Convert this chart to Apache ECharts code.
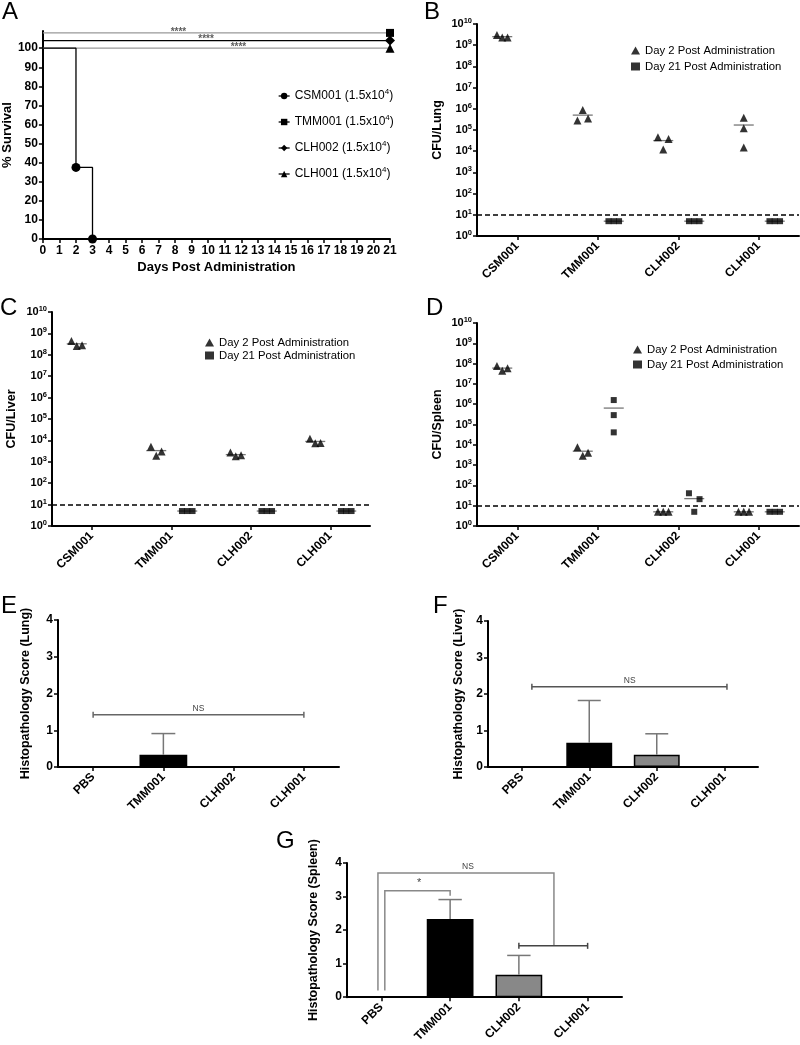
<!DOCTYPE html>
<html><head><meta charset="utf-8">
<script src="https://cdn.jsdelivr.net/npm/echarts@6/dist/echarts.min.js"></script>
<style>html,body{margin:0;padding:0;background:#fff}#c{width:800px;height:1045px}</style>
</head><body><div id="c"></div>
<script>
// ---------------- DATA ----------------
// Panel A: survival (day, % survival, marker shown)
const survNames = ['CSM001', 'TMM001', 'CLH002', 'CLH001'];
const survCSM001 = [[0, 100, 0], [2, 37.5, 1], [3, 0, 1], [21, 0, 0]];
const survTMM001 = [[0, 108, 0], [21, 108, 1]];
const survCLH002 = [[0, 104, 0], [21, 104, 1]];
const survCLH001 = [[0, 100, 0], [21, 100, 1]];
const survYTicks = [0, 10, 20, 30, 40, 50, 60, 70, 80, 90, 100];
const starText = '****';

// Panels B-D: CFU counts (3 animals per group; null = no group)
const strains = ['CSM001', 'TMM001', 'CLH002', 'CLH001'];
const cfuTicks = [1, 1e1, 1e2, 1e3, 1e4, 1e5, 1e6, 1e7, 1e8, 1e9, 1e10];
const lungDay2 = [[3.0e9, 2.3e9, 2.3e9], [2.8e5, 8.8e5, 3.5e5], [4.5e4, 1.2e4, 3.8e4], [3.8e5, 1.2e5, 1.5e4]];
const lungDay21 = [null, [5, 5, 5], [5, 5, 5], [5, 5, 5]];
const liverDay2 = [[4.4e8, 2.6e8, 2.8e8], [5.1e3, 1.9e3, 3.0e3], [2.7e3, 1.8e3, 2.0e3], [1.2e4, 7.3e3, 7.5e3]];
const liverDay21 = [null, [5, 5, 5], [5, 5, 5], [5, 5, 5]];
const spleenDay2 = [[7.6e7, 4.5e7, 5.9e7], [7.5e3, 2.9e3, 4.1e3], [5, 5, 5], [5, 5, 5]];
const spleenDay21 = [null, [1.6e6, 2.9e5, 4.1e4], [41, 5, 21], [5, 5, 5]];
const detectionLimit = 10;

// Panels E-G: histopathology scores (mean, SD)
const histoGroups = ['PBS', 'TMM001', 'CLH002', 'CLH001'];
const lungScoreMean = [0, 0.333, 0, 0];
const lungScoreSD = [0, 0.577, 0, 0];
const liverScoreMean = [0, 0.667, 0.333, 0];
const liverScoreSD = [0, 1.155, 0.577, 0];
const spleenScoreMean = [0, 2.333, 0.667, 0];
const spleenScoreSD = [0, 0.577, 0.577, 0];

// ---------------- HELPERS ----------------
const FONT = "'Liberation Sans', Arial, Helvetica, sans-serif";
const DAY2 = 'Day 2 Post Administration';
const DAY21 = 'Day 21 Post Administration';

function jitterOffsets(vals) {
  const lv = vals.map(Math.log10);
  let overlap = false;
  for (let i = 0; i < lv.length; i++)
    for (let j = i + 1; j < lv.length; j++)
      if (Math.abs(lv[i] - lv[j]) < 0.45) overlap = true;
  return vals.map((_, k) => overlap ? (k - (vals.length - 1) / 2) * 5.3 : 0);
}
function pointData(groups, shift) {
  const out = [];
  groups.forEach((vals, ci) => {
    if (!vals) return;
    const offs = jitterOffsets(vals);
    vals.forEach((v, k) => out.push({ value: [ci, v], symbolOffset: [shift + offs[k], 0] }));
  });
  return out;
}
function meanData(groups, shift) {
  const out = [];
  groups.forEach((vals, ci) => {
    if (!vals) return;
    const m = vals.reduce((a, b) => a + b, 0) / vals.length;
    out.push({ value: [ci, m], symbolOffset: [shift, 0] });
  });
  return out;
}
function cfuSeries(ax, d2, d21) {
  const s = [];
  s.push({ type: 'scatter', name: 'mean2_' + ax, xAxisIndex: ax, yAxisIndex: ax, symbol: 'rect', symbolSize: [20, 1.3],
    itemStyle: { color: '#555' }, z: 2, silent: true, data: meanData(d2, -15) });
  s.push({ type: 'scatter', name: 'mean21_' + ax, xAxisIndex: ax, yAxisIndex: ax, symbol: 'rect', symbolSize: [20, 1.3],
    itemStyle: { color: '#555' }, z: 2, silent: true, data: meanData(d21, 16) });
  s.push({ type: 'scatter', name: DAY2, xAxisIndex: ax, yAxisIndex: ax, symbol: 'triangle', symbolSize: 8,
    itemStyle: { color: '#000' }, z: 3, data: pointData(d2, -15),
    markLine: { silent: true, symbol: 'none', label: { show: false },
      lineStyle: { color: '#000', width: 1.5, type: [5, 3] }, data: [{ yAxis: detectionLimit }] } });
  s.push({ type: 'scatter', name: DAY21, xAxisIndex: ax, yAxisIndex: ax, symbol: 'rect', symbolSize: 6,
    itemStyle: { color: '#000' }, z: 3, data: pointData(d21, 16) });
  return s;
}
function catX(grid, cats) {
  return { type: 'category', gridIndex: grid, data: cats,
    axisLine: { show: true, lineStyle: { color: '#000', width: 2 } },
    axisTick: { show: true, alignWithLabel: true, length: 4, lineStyle: { color: '#000', width: 1.5 } },
    axisLabel: { rotate: 45, interval: 0, fontSize: 12, fontWeight: 'bold', color: '#000', fontFamily: FONT, margin: 8 },
    splitLine: { show: false } };
}
function logY(grid, name, gap) {
  return { type: 'log', gridIndex: grid, logBase: 10, min: 1, max: 1e10,
    name: name, nameLocation: 'middle', nameGap: gap,
    nameTextStyle: { fontWeight: 'bold', fontSize: 12.5, color: '#000', fontFamily: FONT },
    axisLine: { show: true, lineStyle: { color: '#000', width: 2 } },
    axisTick: { show: true, length: 4, customValues: cfuTicks, lineStyle: { color: '#000', width: 1.5 } },
    minorTick: { show: false }, splitLine: { show: false },
    axisLabel: { margin: 5, color: '#000', customValues: cfuTicks,
      formatter: v => '{b|10}{s|' + Math.round(Math.log10(v)) + '}',
      rich: { b: { fontSize: 11, fontWeight: 'bold', fontFamily: FONT, color: '#000', lineHeight: 14 },
              s: { fontSize: 7.5, fontWeight: 'bold', fontFamily: FONT, color: '#000', verticalAlign: 'top', lineHeight: 8 } } } };
}
function histoY(grid, name, gap) {
  return { type: 'value', gridIndex: grid, min: 0, max: 4, interval: 1,
    name: name, nameLocation: 'middle', nameGap: gap,
    nameTextStyle: { fontWeight: 'bold', fontSize: 12.5, color: '#000', fontFamily: FONT },
    axisLine: { show: true, lineStyle: { color: '#000', width: 2 } },
    axisTick: { show: true, length: 4, lineStyle: { color: '#000', width: 1.5 } },
    splitLine: { show: false },
    axisLabel: { margin: 5, fontSize: 12, fontWeight: 'bold', color: '#000', fontFamily: FONT } };
}
const groupFill = { PBS: '#ffffff', TMM001: '#000000', CLH002: '#888888', CLH001: '#ffffff' };
function errRender(params, api) {
  const sd = api.value(2);
  if (!(sd > 0)) return;
  const i = api.value(0), m = api.value(1);
  const base = api.coord([i, m]), top = api.coord([i, m + sd]);
  const hw = api.size([1, 0])[0] * 0.17;
  const st = { stroke: '#777', lineWidth: 1.5 };
  return { type: 'group', children: [
    { type: 'line', shape: { x1: base[0], y1: base[1], x2: top[0], y2: top[1] }, style: st },
    { type: 'line', shape: { x1: top[0] - hw, y1: top[1], x2: top[0] + hw, y2: top[1] }, style: st } ] };
}
function bracketRender(list) {
  return function (params, api) {
    const b = list[params.dataIndex];
    const bw = api.size([1, 0])[0];
    const P = p => { const i = Math.round(p[0]); const c = api.coord([i, p[1]]); return [c[0] + (p[0] - i) * bw, c[1]]; };
    const pts = b.pts.map(P);
    const ch = [{ type: 'polyline', shape: { points: pts }, style: { stroke: b.color, lineWidth: 1.5, fill: null } }];
    if (b.caps) [pts[0], pts[pts.length - 1]].forEach(q =>
      ch.push({ type: 'line', shape: { x1: q[0], y1: q[1] - 3, x2: q[0], y2: q[1] + 3 }, style: { stroke: b.color, lineWidth: 1.5 } }));
    if (b.label) {
      const q = P(b.labelAt);
      ch.push({ type: 'text', x: q[0], y: q[1] - (b.dy || 2),
        style: { text: b.label, fill: '#444', fontSize: b.fs || 8.5, fontFamily: FONT, align: 'center', verticalAlign: 'bottom' } });
    }
    return { type: 'group', children: ch };
  };
}
function histoSeries(ax, means, sds, brackets) {
  return [
    { type: 'bar', xAxisIndex: ax, yAxisIndex: ax, barWidth: '68%', silent: true, z: 2,
      data: means.map((m, i) => ({ value: m, itemStyle: { color: groupFill[histoGroups[i]], borderColor: '#000', borderWidth: m > 0 ? 1.5 : 0 } })) },
    { type: 'custom', xAxisIndex: ax, yAxisIndex: ax, z: 3, silent: true, renderItem: errRender,
      encode: { x: 0, y: 1 }, data: means.map((m, i) => [i, m, sds[i]]) },
    { type: 'custom', xAxisIndex: ax, yAxisIndex: ax, z: 4, silent: true, clip: false, renderItem: bracketRender(brackets),
      encode: { x: 0, y: 1 }, data: brackets.map(() => [0, 0]) }
  ];
}
function survSeries(name, pts, symbol, size, color) {
  return { type: 'line', name: name, xAxisIndex: 0, yAxisIndex: 0, step: 'end', symbol: symbol, symbolSize: size,
    showAllSymbol: true, lineStyle: { color: color, width: 1.3 }, itemStyle: { color: '#000' }, z: color === '#000' ? 4 : 3,
    emphasis: { disabled: true },
    data: pts.map(p => ({ value: [p[0], p[1]], symbol: p[2] ? symbol : 'none' })) };
}

// ---------------- OPTION ----------------
const axisTxt = { fontSize: 12, fontWeight: 'bold', color: '#000', fontFamily: FONT };
const legendTxt = { fontSize: 11.3, color: '#000', fontFamily: FONT };
const option = {
  backgroundColor: '#fff',
  animation: false,
  textStyle: { fontFamily: FONT },
  grid: [
    { left: 34, top: 31, width: 356, height: 208 },
    { left: 477, top: 24, width: 322, height: 212 },
    { left: 52, top: 312, width: 318, height: 214 },
    { left: 477, top: 323, width: 322, height: 203 },
    { left: 58, top: 620, width: 281, height: 147 },
    { left: 488, top: 621, width: 270, height: 146 },
    { left: 347, top: 863, width: 275, height: 142 }
  ],
  xAxis: [
    { type: 'value', gridIndex: 0, min: 0, max: 21, interval: 1,
      name: 'Days Post Administration', nameLocation: 'middle', nameGap: 22,
      nameTextStyle: { fontWeight: 'bold', fontSize: 13, color: '#000', fontFamily: FONT },
      axisLine: { show: true, lineStyle: { color: '#000', width: 2 } },
      axisTick: { show: true, length: 4, lineStyle: { color: '#000', width: 1.5 } },
      splitLine: { show: false }, axisLabel: Object.assign({ margin: 6 }, axisTxt) },
    catX(1, strains), catX(2, strains), catX(3, strains),
    catX(4, histoGroups), catX(5, histoGroups), catX(6, histoGroups)
  ],
  yAxis: [
    { type: 'value', gridIndex: 0, min: 0, max: 109,
      name: '% Survival', nameLocation: 'middle', nameGap: 24,
      nameTextStyle: { fontWeight: 'bold', fontSize: 13, color: '#000', fontFamily: FONT },
      axisLine: { show: true, lineStyle: { color: '#000', width: 2 } },
      axisTick: { show: true, length: 4, customValues: survYTicks, lineStyle: { color: '#000', width: 1.5 } },
      splitLine: { show: false },
      axisLabel: Object.assign({ margin: 5, customValues: survYTicks }, axisTxt) },
    logY(1, 'CFU/Lung', 33), logY(2, 'CFU/Liver', 34), logY(3, 'CFU/Spleen', 33),
    histoY(4, 'Histopathology Score (Lung)', 26),
    histoY(5, 'Histopathology Score (Liver)', 23),
    histoY(6, 'Histopathology Score (Spleen)', 27)
  ],
  legend: [
    { data: survNames, orient: 'vertical', left: 273, top: 83, itemGap: 10, itemWidth: 11, itemHeight: 8,
      selectedMode: false, formatter: n => n + ' (1.5x10{s|4})', lineStyle: { color: '#000', width: 1.3 },
      textStyle: { fontSize: 12, color: '#000', fontFamily: FONT, lineHeight: 16,
        rich: { s: { fontSize: 8, fontFamily: FONT, color: '#000', verticalAlign: 'top', lineHeight: 9 } } } },
    { data: [DAY2, DAY21], orient: 'vertical', left: 626, top: 40, itemGap: 5, itemWidth: 9, itemHeight: 8,
      selectedMode: false, textStyle: legendTxt },
    { data: [DAY2, DAY21], orient: 'vertical', left: 200, top: 332, itemGap: 2, itemWidth: 9, itemHeight: 8,
      selectedMode: false, textStyle: legendTxt },
    { data: [DAY2, DAY21], orient: 'vertical', left: 628, top: 339, itemGap: 4, itemWidth: 9, itemHeight: 8,
      selectedMode: false, textStyle: legendTxt }
  ],
  graphic: [
    ['A', 2, 0], ['B', 424, 0], ['C', 0, 296], ['D', 426, 296], ['E', 1, 594], ['F', 433, 594], ['G', 276, 829]
  ].map(t => ({ type: 'text', left: t[1], top: t[2], style: { text: t[0], fontSize: 24, fontFamily: FONT, fill: '#000' } })),
  series: [
    survSeries('CLH001', survCLH001, 'triangle', 9, '#999'),
    survSeries('TMM001', survTMM001, 'rect', 8, '#999'),
    survSeries('CLH002', survCLH002, 'diamond', 10, '#000'),
    survSeries('CSM001', survCSM001, 'circle', 9, '#000'),
    { type: 'scatter', name: 'stars', xAxisIndex: 0, yAxisIndex: 0, symbolSize: 1, silent: true,
      itemStyle: { color: 'transparent' },
      label: { show: true, formatter: starText, position: 'inside', offset: [0, -1], fontSize: 10, fontWeight: 'bold', color: '#333', fontFamily: FONT },
      data: [[8.2, 108], [9.87, 104], [11.83, 100]] },
    ...cfuSeries(1, lungDay2, lungDay21),
    ...cfuSeries(2, liverDay2, liverDay21),
    ...cfuSeries(3, spleenDay2, spleenDay21),
    ...histoSeries(4, lungScoreMean, lungScoreSD, [
      { pts: [[0, 1.42], [3, 1.42]], caps: true, color: '#666', label: 'NS', labelAt: [1.5, 1.42] } ]),
    ...histoSeries(5, liverScoreMean, liverScoreSD, [
      { pts: [[0.15, 2.2], [3.04, 2.2]], caps: true, color: '#555', label: 'NS', labelAt: [1.6, 2.2] } ]),
    ...histoSeries(6, spleenScoreMean, spleenScoreSD, [
      { pts: [[-0.05, 0.2], [-0.05, 3.7], [2.51, 3.7], [2.51, 1.53]], color: '#888', label: 'NS', labelAt: [1.26, 3.7] },
      { pts: [[0.05, 0.2], [0.05, 3.17], [1, 3.17], [1, 3.02]], color: '#888', label: '*', labelAt: [0.55, 3.17], fs: 11, dy: 0 },
      { pts: [[2, 1.53], [3, 1.53]], caps: true, color: '#444' } ])
  ]
};
const chart = echarts.init(document.getElementById('c'), null, { renderer: 'canvas' });
chart.setOption(option);
</script>
</body></html>
